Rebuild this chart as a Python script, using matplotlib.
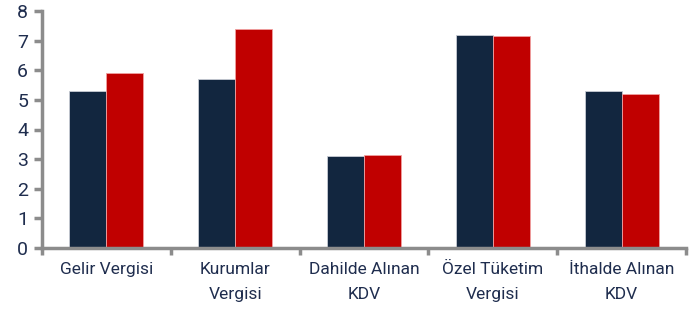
import matplotlib
matplotlib.use("Agg")
import matplotlib.pyplot as plt
import numpy as np

# data
categories = ["Gelir Vergisi", "Kurumlar\nVergisi", "Dahilde Alınan\nKDV",
              "Özel Tüketim\nVergisi", "İthalde Alınan\nKDV"]
series1 = [5.3, 5.7, 3.1, 7.2, 5.3]
series2 = [5.9, 7.4, 3.15, 7.15, 5.2]

navy = "#12263F"
red = "#C00000"
txt = "#1F2D4E"
grey = "#8C8C8C"

plt.rcParams['font.family'] = ['Roboto', 'DejaVu Sans']

fig = plt.figure(figsize=(6.89, 3.11), dpi=100)
ax = fig.add_axes([42/689, 1-248/311, 644/689, 237/311])

x = np.arange(len(categories))
w = 0.287
ax.bar(x - w/2, series1, w, color=navy, edgecolor="#c8ccd4", linewidth=0.6)
ax.bar(x + w/2, series2, w, color=red, edgecolor="#f0a0a0", linewidth=0.6)

ax.set_xlim(-0.5, len(categories) - 0.5)
ax.set_ylim(0, 8)
ax.set_yticks(range(0, 9))

ax.set_xticks(x)
ax.set_xticklabels(categories, fontsize=12.5, color=txt, linespacing=1.85)
ax.set_xticks(np.arange(-0.5, len(categories)), minor=True)
ax.tick_params(axis='x', which='major', length=0, pad=10)
ax.tick_params(axis='x', which='minor', length=5, width=2.5, color=grey, direction='out')
ax.tick_params(axis='y', length=6, width=2.5, color=grey, labelsize=14, labelcolor=txt, pad=4)

for s in ['top', 'right']:
    ax.spines[s].set_visible(False)
for s in ['left', 'bottom']:
    ax.spines[s].set_color(grey)
    ax.spines[s].set_linewidth(2.5)

fig.savefig("out.png", dpi=100)
